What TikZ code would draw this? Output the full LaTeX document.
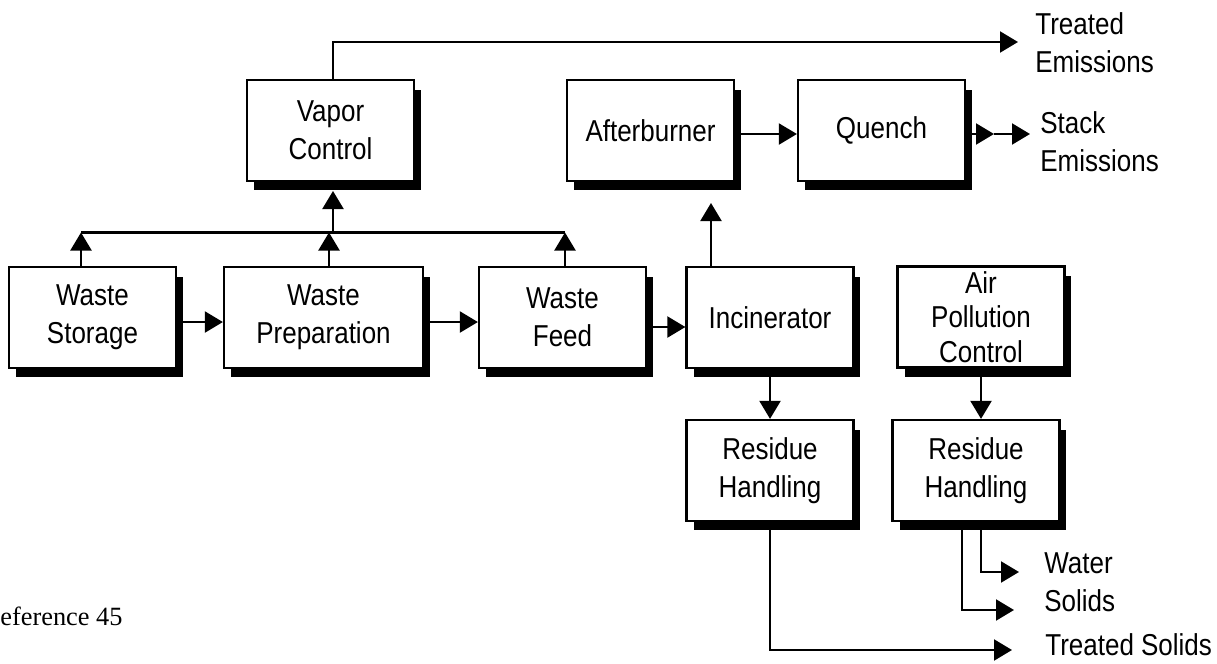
\documentclass[tikz,border=0pt]{standalone}
\usepackage{fontspec}
\setmainfont{Liberation Sans}[FakeStretch=0.86]
\newfontfamily\refserif{Liberation Serif}
\usetikzlibrary{arrows.meta,shadows}

\begin{document}
\begin{tikzpicture}[
    x=0.02cm, y=-0.02cm,
    box/.style={
        rectangle,
        minimum width=#1,
        minimum height=2.02cm,
        inner sep=0pt,
        draw=black,
        line width=1.3pt,
        fill=white,
        align=center,
        font=\fontsize{17.2}{21.7}\selectfont,
        drop shadow={shadow xshift=0.14cm, shadow yshift=-0.19cm, fill=black, opacity=1}
    },
    box/.default=3.34cm,
    arrow/.style={-{Triangle[length=0.36cm, width=0.42cm]}, line width=1.2pt},
    line/.style={line width=1.2pt},
    outlabel/.style={anchor=west, align=left, inner sep=0pt, font=\fontsize{17.2}{21.7}\selectfont}
]
\useasboundingbox (0,0) rectangle (1217,663);

% process boxes
\node[box] (storage) at (92.5,317.5) {Waste\\Storage};
\node[box=3.98cm] (prep) at (323.5,317.5) {Waste\\Preparation};
\node[box] (feed) at (562.5,317.5) {Waste\\Feed};
\node[box] (incin) at (770,317.5) {Incinerator};
\node[box, font=\fontsize{17.2}{19.8}\selectfont] (apc) at (981,317) {Air\\Pollution\\Control};
\node[box] (res1) at (770,470.5) {Residue\\Handling};
\node[box] (res2) at (976,470.5) {Residue\\Handling};
\node[box] (vapor) at (330.5,130.5) {Vapor\\Control};
\node[box] (after) at (650.5,130.5) {Afterburner};
\node[box] (quench) at (881.5,130.5) {Quench};

% main line
\draw[arrow] ([yshift=-0.09cm]storage.east) -- ([yshift=-0.09cm]prep.west);
\draw[arrow] ([yshift=-0.09cm]prep.east) -- ([yshift=-0.09cm]feed.west);
\draw[arrow] ([yshift=-0.19cm]feed.east) -- ([yshift=-0.19cm]incin.west);

% vapors collected to vapor control
\coordinate (busL) at (81,232.5);
\coordinate (busP) at (329,232.5);
\coordinate (busR) at (565,232.5);
\coordinate (vapin) at (333,191);
\draw[line] (busL) -- (busR);
\draw[arrow] (storage.north -| busL) -- (busL);
\draw[arrow] (prep.north -| busP) -- (busP);
\draw[arrow] (feed.north -| busR) -- (busR);
\draw[arrow] (vapin |- busL) -- (vapin);

\coordinate (temis) at (1018,42);
\draw[arrow] ([xshift=0.05cm]vapor.north) |- (temis);
\node[outlabel] (temtxt) at (1035,43) {Treated\\Emissions};

% off-gas train
\coordinate (abin) at (711,203);
\draw[arrow] (incin.north -| abin) -- (abin);
\draw[arrow] ([yshift=-0.07cm]after.east) -- ([yshift=-0.07cm]quench.west);
\coordinate (qmid) at (994,134);
\coordinate (stack) at (1030,134);
\draw[arrow] (quench.east |- qmid) -- (qmid);
\draw[arrow] (qmid) -- (stack);
\node[outlabel] (stktxt) at (1040,142) {Stack\\Emissions};

% residues
\draw[arrow] (incin) -- (res1);
\draw[arrow] (apc) -- (apc |- res2.north);
\coordinate (tsol) at (1012,650);
\draw[arrow] (res1.south) |- (tsol);
\coordinate (water) at (1019,572);
\draw[arrow] (res2.south -| apc) |- (water);
\coordinate (solids) at (1014,610);
\draw[arrow] ([xshift=-0.28cm]res2.south) |- (solids);
\node[outlabel] (wattxt) at (1044,563) {Water};
\node[outlabel] (soltxt) at (1044,601) {Solids};
\node[outlabel] (tsoltxt) at (1045,645) {Treated Solids};

\node[anchor=west, inner sep=0pt, font=\refserif\fontsize{15}{18}\selectfont] (ref) at (0,616) {eference 45};

\end{tikzpicture}
\end{document}
